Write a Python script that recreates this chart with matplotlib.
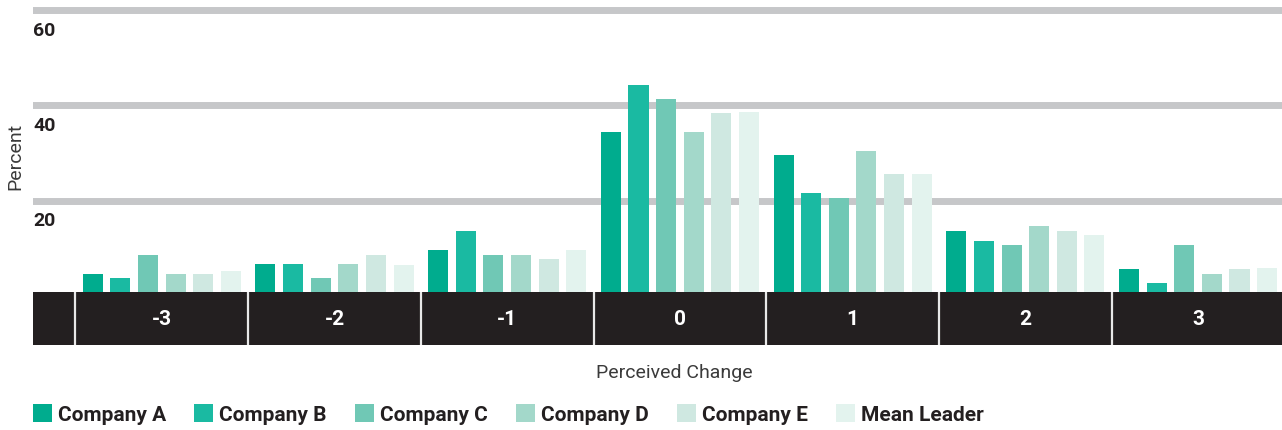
#!/usr/bin/env python3
"""Perceived change by company: grouped bars over a dark category band."""

import matplotlib

matplotlib.use("Agg")
import matplotlib.pyplot as plt
import numpy as np
from matplotlib.patches import Patch

plt.rcParams["font.family"] = ["Roboto", "DejaVu Sans"]

categories = ["-3", "-2", "-1", "0", "1", "2", "3"]
series_names = ["Company A", "Company B", "Company C", "Company D", "Company E", "Mean Leader"]
company_a = [4.6, 6.7, 9.6, 34.4, 29.6, 13.6, 5.7]
company_b = [3.8, 6.7, 13.6, 44.3, 21.6, 11.5, 2.7]
company_c = [8.6, 3.8, 8.6, 41.3, 20.6, 10.7, 10.7]
company_d = [4.6, 6.7, 8.6, 34.4, 30.4, 14.7, 4.6]
company_e = [4.6, 8.6, 7.8, 38.4, 25.6, 13.6, 5.7]
mean_leader = [5.2, 6.5, 9.6, 38.6, 25.6, 12.8, 5.9]
grid_values = [20, 40, 60]

colors = ["#00ac8e", "#1abaa2", "#70c8b5", "#a3d8ca", "#cfe8e1", "#e3f3ee"]
dark = "#231f20"
grid_grey = "#c6c7c9"

fig = plt.figure(figsize=(12.82, 4.31), dpi=100)
ax = fig.add_axes([33 / 1282, 85 / 431, 1 - 33 / 1282, 1 - 85 / 431])

ymin, ymax = -10.28, 62.33
band_top = 0.85
x = np.arange(len(categories))
width = 0.116
step = 0.16

for val in grid_values:
    ax.axhline(val, color=grid_grey, lw=5, zorder=1)

all_series = [company_a, company_b, company_c, company_d, company_e, mean_leader]
for k, (vals, col) in enumerate(zip(all_series, colors)):
    ax.bar(x + (k - 2.5) * step, vals, width=width, color=col, zorder=2, linewidth=0)

# dark category band with thin separators
ax.axhspan(ymin, band_top, color=dark, zorder=3, lw=0)
ax.vlines(x - 0.5, ymin, band_top, color="#e8e8e8", lw=1.6, zorder=4)
for i, lab in enumerate(categories):
    ax.text(i, -4.8, lab, color="white", fontsize=15, fontweight="bold",
            ha="center", va="center", zorder=5)

for val in grid_values:
    ax.annotate(str(val), xy=(0, val), xycoords=("axes fraction", "data"),
                xytext=(0, -14), textcoords="offset points",
                ha="left", va="center", fontsize=14, fontweight="bold", color=dark)

ax.set_xlim(-0.746, 6.486)
ax.set_ylim(ymin, ymax)
ax.axis("off")

fig.text(15 / 1282, 1 - 156 / 431, "Percent", rotation=90, fontsize=14,
         color="#3a3a3a", ha="center", va="center")
fig.text(674.5 / 1282, 1 - 373 / 431, "Perceived Change", fontsize=14,
         color="#3a3a3a", ha="center", va="center")

handles = [Patch(facecolor=c, edgecolor="none") for c in colors]
fig.legend(handles, series_names, loc="center left", ncol=6,
           bbox_to_anchor=(33 / 1282, 1 - 415 / 431), frameon=False,
           prop={"weight": "bold", "size": 15}, labelcolor=dark,
           handlelength=0.92, handleheight=0.92, handletextpad=0.28,
           columnspacing=1.35, borderpad=0, borderaxespad=0)

fig.savefig("out.png", dpi=100)
